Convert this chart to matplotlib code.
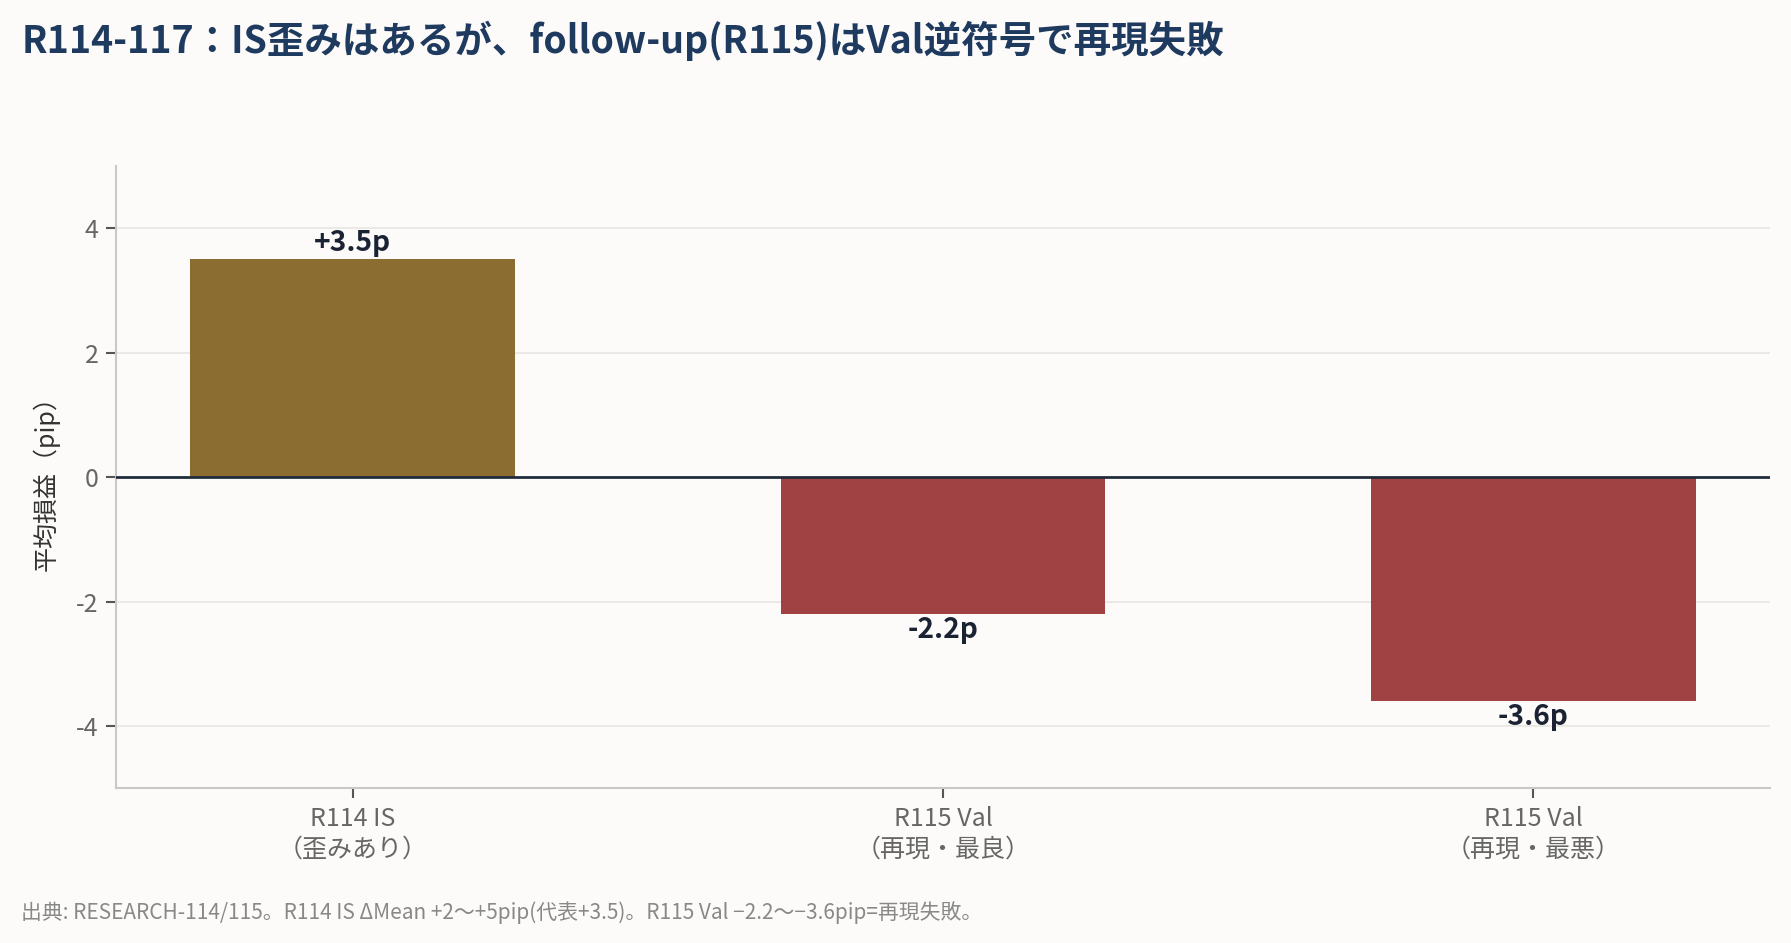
import matplotlib.pyplot as plt

plt.rcParams['font.family'] = ['Noto Sans CJK JP', 'DejaVu Sans']
plt.rcParams['axes.unicode_minus'] = False

categories = ['R114 IS\n（歪みあり）', 'R115 Val\n（再現・最良）', 'R115 Val\n（再現・最悪）']
values = [3.5, -2.2, -3.6]
value_labels = ['+3.5p', '-2.2p', '-3.6p']
bar_colors = ['#8B6D31', '#A04143', '#A04143']
yticks = [-4, -2, 0, 2, 4]

title = 'R114-117：IS歪みはあるが、follow-up(R115)はVal逆符号で再現失敗'
ylabel = '平均損益（pip）'
note = '出典: RESEARCH-114/115。R114 IS ΔMean +2〜+5pip(代表+3.5)。R115 Val −2.2〜−3.6pip=再現失敗。'


def main():
    bg = '#FCFBF9'
    fig = plt.figure(figsize=(11.94, 6.287), dpi=150, facecolor=bg)
    ax = fig.add_axes([0.065, 0.164, 0.923, 0.66], facecolor=bg)

    x = range(len(values))
    ax.bar(x, values, width=0.55, color=bar_colors, zorder=2)
    ax.axhline(0, color='#1E2A3A', linewidth=1.3, zorder=3)

    for i, (v, lab) in enumerate(zip(values, value_labels)):
        if v >= 0:
            ax.annotate(lab, (i, v), xytext=(0, 1), textcoords='offset points',
                        ha='center', va='bottom', fontsize=13.5, fontweight='bold',
                        color='#1A2233')
        else:
            ax.annotate(lab, (i, v), xytext=(0, -1), textcoords='offset points',
                        ha='center', va='top', fontsize=13.5, fontweight='bold',
                        color='#1A2233')

    ax.set_xlim(-0.4, 2.4)
    ax.set_ylim(-5, 5)
    ax.set_yticks(yticks)
    ax.set_xticks(list(x))
    ax.set_xticklabels(categories)
    ax.grid(axis='y', color='#E8E6E3', linewidth=0.8, zorder=0)
    ax.set_axisbelow(True)
    ax.tick_params(colors='#555555', labelsize=12, length=5, width=1)
    ax.tick_params(axis='both', labelcolor='#666666')
    for s in ['top', 'right']:
        ax.spines[s].set_visible(False)
    for s in ['left', 'bottom']:
        ax.spines[s].set_color('#C8C8C8')
        ax.spines[s].set_linewidth(1.0)
    ax.set_ylabel(ylabel, fontsize=12, color='#333333', labelpad=8)

    fig.text(0.012, 0.957, title, fontsize=18, fontweight='bold', color='#1F3A5F',
             ha='left', va='center')
    fig.text(0.012, 0.032, note, fontsize=10, color='#888888', ha='left', va='center')

    fig.savefig('out.png', dpi=150, facecolor=bg)


if __name__ == '__main__':
    main()
